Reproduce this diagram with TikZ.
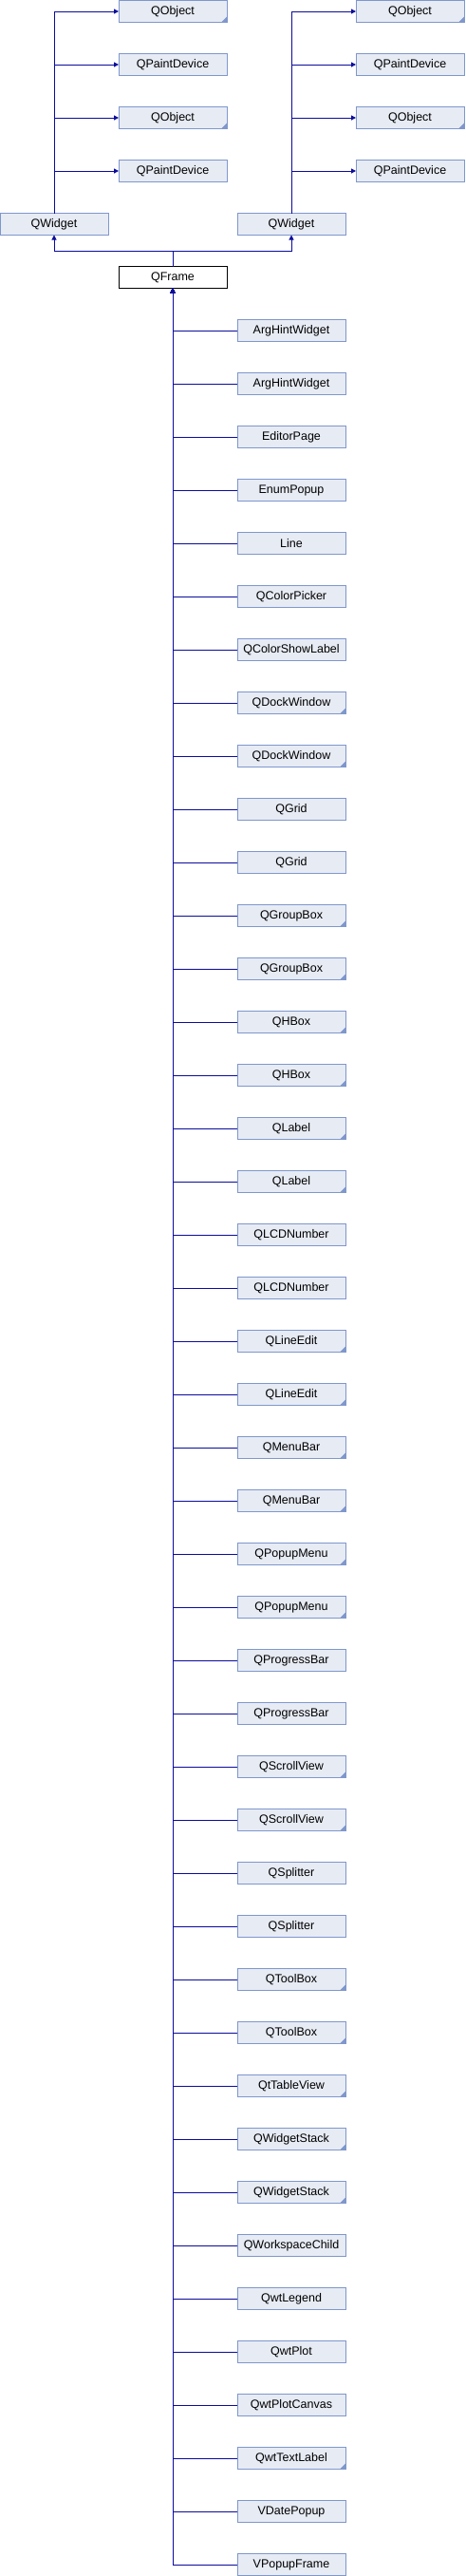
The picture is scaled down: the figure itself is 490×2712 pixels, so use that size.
\documentclass[tikz,border=0pt]{standalone}
\usepackage{fontspec}
\setmainfont{Liberation Sans}
\usepackage{tikz}
\usetikzlibrary{arrows.meta, positioning}

\definecolor{boxfill}{HTML}{E7EBF4}
\definecolor{boxline}{HTML}{7F97CC}
\definecolor{edgeblue}{HTML}{0C0C9C}

\begin{document}
\begin{tikzpicture}[x=1pt, y=-1pt,
    >={Triangle[length=5pt, width=5pt]}, node distance=33pt,
    cls/.style={draw=boxline, fill=boxfill, line width=0.9pt, minimum width=114pt, minimum height=23pt, inner sep=0pt, outer sep=0pt, font=\fontsize{12.5}{14}\selectfont, align=center},
    linked/.style={cls, path picture={\fill[boxline] (path picture bounding box.south east) -- ++(-6pt,0) -- ++(6pt,6pt) -- cycle;}},
    cur/.style={cls, draw=black, fill=white},
    inh/.style={->, line width=1pt, color=edgeblue},
]
\useasboundingbox (0,0) rectangle (490,2712);
% parents of the two QWidget
\node[linked] (lo1) at (182,12) {QObject};
\node[cls, below=of lo1] (lp1) {QPaintDevice};
\node[linked, below=of lp1] (lo2) {QObject};
\node[cls, below=of lo2] (lp2) {QPaintDevice};
\node[linked] (ro1) at (432,12) {QObject};
\node[cls, below=of ro1] (rp1) {QPaintDevice};
\node[linked, below=of rp1] (ro2) {QObject};
\node[cls, below=of ro2] (rp2) {QPaintDevice};
\node[cls] (qwl) at (57,236) {QWidget};
\node[cls] (qwr) at (307,236) {QWidget};
\draw[inh] (qwl.north) |- (lo1.west); \draw[inh] (qwl.north) |- (lp1.west); \draw[inh] (qwl.north) |- (lo2.west); \draw[inh] (qwl.north) |- (lp2.west);
\draw[inh] (qwr.north) |- (ro1.west); \draw[inh] (qwr.north) |- (rp1.west); \draw[inh] (qwr.north) |- (ro2.west); \draw[inh] (qwr.north) |- (rp2.west);
% QFrame
\node[cur] (qframe) at (182,292) {QFrame};
\coordinate (join) at (182,264);
\draw[inh] (qframe.north) -- (join) -| (qwl.south);
\draw[inh] (qframe.north) -- (join) -| (qwr.south);
% subclasses
\node[cls, below=of qframe, xshift=125pt] (c1) {ArgHintWidget}; \draw[inh] (c1.west) -| (qframe.south);
\node[cls, below=of c1] (c2) {ArgHintWidget}; \draw[inh] (c2.west) -| (qframe.south);
\node[cls, below=of c2] (c3) {EditorPage}; \draw[inh] (c3.west) -| (qframe.south);
\node[cls, below=of c3] (c4) {EnumPopup}; \draw[inh] (c4.west) -| (qframe.south);
\node[cls, below=of c4] (c5) {Line}; \draw[inh] (c5.west) -| (qframe.south);
\node[cls, below=of c5] (c6) {QColorPicker}; \draw[inh] (c6.west) -| (qframe.south);
\node[cls, below=of c6] (c7) {QColorShowLabel}; \draw[inh] (c7.west) -| (qframe.south);
\node[linked, below=of c7] (c8) {QDockWindow}; \draw[inh] (c8.west) -| (qframe.south);
\node[linked, below=of c8] (c9) {QDockWindow}; \draw[inh] (c9.west) -| (qframe.south);
\node[cls, below=of c9] (c10) {QGrid}; \draw[inh] (c10.west) -| (qframe.south);
\node[cls, below=of c10] (c11) {QGrid}; \draw[inh] (c11.west) -| (qframe.south);
\node[linked, below=of c11] (c12) {QGroupBox}; \draw[inh] (c12.west) -| (qframe.south);
\node[linked, below=of c12] (c13) {QGroupBox}; \draw[inh] (c13.west) -| (qframe.south);
\node[linked, below=of c13] (c14) {QHBox}; \draw[inh] (c14.west) -| (qframe.south);
\node[linked, below=of c14] (c15) {QHBox}; \draw[inh] (c15.west) -| (qframe.south);
\node[linked, below=of c15] (c16) {QLabel}; \draw[inh] (c16.west) -| (qframe.south);
\node[linked, below=of c16] (c17) {QLabel}; \draw[inh] (c17.west) -| (qframe.south);
\node[cls, below=of c17] (c18) {QLCDNumber}; \draw[inh] (c18.west) -| (qframe.south);
\node[cls, below=of c18] (c19) {QLCDNumber}; \draw[inh] (c19.west) -| (qframe.south);
\node[linked, below=of c19] (c20) {QLineEdit}; \draw[inh] (c20.west) -| (qframe.south);
\node[linked, below=of c20] (c21) {QLineEdit}; \draw[inh] (c21.west) -| (qframe.south);
\node[linked, below=of c21] (c22) {QMenuBar}; \draw[inh] (c22.west) -| (qframe.south);
\node[linked, below=of c22] (c23) {QMenuBar}; \draw[inh] (c23.west) -| (qframe.south);
\node[linked, below=of c23] (c24) {QPopupMenu}; \draw[inh] (c24.west) -| (qframe.south);
\node[linked, below=of c24] (c25) {QPopupMenu}; \draw[inh] (c25.west) -| (qframe.south);
\node[cls, below=of c25] (c26) {QProgressBar}; \draw[inh] (c26.west) -| (qframe.south);
\node[cls, below=of c26] (c27) {QProgressBar}; \draw[inh] (c27.west) -| (qframe.south);
\node[linked, below=of c27] (c28) {QScrollView}; \draw[inh] (c28.west) -| (qframe.south);
\node[linked, below=of c28] (c29) {QScrollView}; \draw[inh] (c29.west) -| (qframe.south);
\node[cls, below=of c29] (c30) {QSplitter}; \draw[inh] (c30.west) -| (qframe.south);
\node[cls, below=of c30] (c31) {QSplitter}; \draw[inh] (c31.west) -| (qframe.south);
\node[linked, below=of c31] (c32) {QToolBox}; \draw[inh] (c32.west) -| (qframe.south);
\node[linked, below=of c32] (c33) {QToolBox}; \draw[inh] (c33.west) -| (qframe.south);
\node[linked, below=of c33] (c34) {QtTableView}; \draw[inh] (c34.west) -| (qframe.south);
\node[linked, below=of c34] (c35) {QWidgetStack}; \draw[inh] (c35.west) -| (qframe.south);
\node[linked, below=of c35] (c36) {QWidgetStack}; \draw[inh] (c36.west) -| (qframe.south);
\node[cls, below=of c36] (c37) {QWorkspaceChild}; \draw[inh] (c37.west) -| (qframe.south);
\node[cls, below=of c37] (c38) {QwtLegend}; \draw[inh] (c38.west) -| (qframe.south);
\node[cls, below=of c38] (c39) {QwtPlot}; \draw[inh] (c39.west) -| (qframe.south);
\node[cls, below=of c39] (c40) {QwtPlotCanvas}; \draw[inh] (c40.west) -| (qframe.south);
\node[linked, below=of c40] (c41) {QwtTextLabel}; \draw[inh] (c41.west) -| (qframe.south);
\node[cls, below=of c41] (c42) {VDatePopup}; \draw[inh] (c42.west) -| (qframe.south);
\node[cls, below=of c42] (c43) {VPopupFrame}; \draw[inh] (c43.west) -| (qframe.south);
\end{tikzpicture}
\end{document}
